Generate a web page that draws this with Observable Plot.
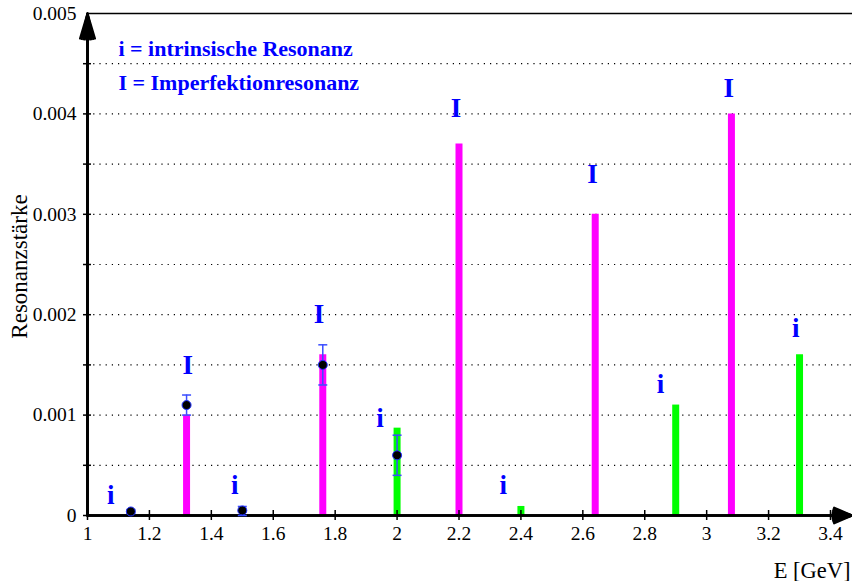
<!DOCTYPE html>
<html>
<head>
<meta charset="utf-8">
<script src="https://cdn.jsdelivr.net/npm/d3@7"></script>
<script src="https://cdn.jsdelivr.net/npm/@observablehq/plot@0.6"></script>
<style>
  html, body { margin: 0; padding: 0; background: #fff; }
  #chart svg { display: block; }
  #chart svg, #chart svg text { font-family: "Liberation Serif", "Times New Roman", "DejaVu Serif", serif !important; }
</style>
</head>
<body>
<div id="chart"></div>
<script>
// Imperfection resonances (magenta)
const imperfE = [1.32, 1.76, 2.2, 2.64, 3.08];
const imperfS = [0.001, 0.0016, 0.0037, 0.003, 0.004];
// Intrinsic resonances (green)
const intrE = [2.0, 2.4, 2.9, 3.3];
const intrS = [0.00087, 0.00009, 0.0011, 0.0016];
// Measured points with error bars
const measE = [1.14, 1.32, 1.5, 1.76, 2.0];
const measS = [0.00004, 0.0011, 0.00005, 0.0015, 0.0006];
const measLo = [0.00002, 0.001, 0.0, 0.0013, 0.0004];
const measHi = [0.00006, 0.0012, 0.00009, 0.0017, 0.0008];
// Type labels above the resonances
const labText = ["i", "I", "i", "I", "i", "I", "i", "I", "i", "I", "i"];
const labE = [1.075, 1.324, 1.476, 1.748, 1.945, 2.19, 2.343, 2.631, 2.851, 3.071, 3.288];
const labS = [0.0002, 0.0015, 0.0003, 0.002, 0.00097, 0.00406, 0.0003, 0.0034, 0.00131, 0.00425, 0.00186];
// Legend
const legendText = ["i = intrinsische Resonanz", "I = Imperfektionresonanz"];
const legendS = [0.00465, 0.00431];
const legendE = 1.1;
// Axes
const xTicks = [1, 1.2, 1.4, 1.6, 1.8, 2, 2.2, 2.4, 2.6, 2.8, 3, 3.2, 3.4];
const yTicks = [0, 0.0005, 0.001, 0.0015, 0.002, 0.0025, 0.003, 0.0035, 0.004, 0.0045, 0.005];
const yGrid = yTicks.filter(d => d > 0 && d < 0.005);
const xAxisEnd = 3.47;
const xLabel = "E [GeV]";
const yLabel = "Resonanzstärke";

const FONT = "Liberation Serif, Times New Roman, DejaVu Serif, serif";
const imperf = imperfE.map((e, i) => ({e, s: imperfS[i]}));
const intr = intrE.map((e, i) => ({e, s: intrS[i]}));
const meas = measE.map((e, i) => ({e, s: measS[i], lo: measLo[i], hi: measHi[i]}));
const labs = labE.map((e, i) => ({e, s: labS[i], t: labText[i]}));
const legend = legendText.map((t, i) => ({t, s: legendS[i]}));

const capSymbol = {draw(ctx, size) { ctx.moveTo(-4.5, 0); ctx.lineTo(4.5, 0); }};
// hatched arrow heads: several nested heads of decreasing angle
const xHatch = [47, 38, 29, 20, 11];
const yHatch = [33, 26, 19, 12, 5];

const chart = Plot.plot({
  width: 852,
  height: 581,
  marginLeft: 87,
  marginRight: 22,
  marginTop: 13,
  marginBottom: 66,
  style: {fontFamily: FONT, fontSize: "19px", color: "#000", background: "#fff"},
  x: {domain: [1, 3.4], axis: null},
  y: {domain: [0, 0.005], axis: null},
  marks: [
    // dotted grid
    Plot.ruleY(yGrid, {x1: 1, x2: xAxisEnd, stroke: "#000", strokeWidth: 1.2, strokeDasharray: "1.2,5"}),
    // top frame line
    Plot.ruleY([0.005], {x1: 1, x2: xAxisEnd + 0.02, stroke: "#000", strokeWidth: 1.5}),
    // bars
    Plot.ruleX(imperf, {x: "e", y1: 0, y2: "s", stroke: "#ff00ff", strokeWidth: 7}),
    Plot.ruleX(intr, {x: "e", y1: 0, y2: "s", stroke: "#00ff00", strokeWidth: 7}),
    // axes lines with hatched arrow heads
    ...xHatch.map(a => Plot.arrow([0], {x1: 1, y1: 0, x2: xAxisEnd, y2: 0, stroke: "#000", strokeWidth: 2.2, headLength: 13.4, headAngle: a})),
    ...yHatch.map(a => Plot.arrow([0], {x1: 1, y1: 0, x2: 1, y2: 0.005, stroke: "#000", strokeWidth: 2.2, headLength: 17.8, headAngle: a})),
    // tick marks crossing axes
    Plot.ruleX(xTicks, {x: d => d, y1: 0, y2: 0, insetTop: -5, insetBottom: -5, stroke: "#000", strokeWidth: 1.5}),
    Plot.ruleY(yTicks.filter(d => d < 0.005), {y: d => d, x1: 1, x2: 1, insetLeft: -4, insetRight: -4, stroke: "#000", strokeWidth: 1.5}),
    // tick labels
    Plot.axisX(xTicks, {tickSize: 0, tickPadding: 11, fontSize: 19.5, fontFamily: FONT, label: null, tickFormat: d => String(d)}),
    Plot.axisY(yTicks, {tickSize: 0, tickPadding: 11, fontSize: 19.5, fontFamily: FONT, label: null,
      tickFormat: d => { const k = Math.round(d * 2000); return k % 2 === 0 ? (d === 0 ? "0" : d.toFixed(3)) : ""; }}),
    // axis titles
    Plot.text([yLabel], {text: d => d, frameAnchor: "left", dx: -68, dy: 2, rotate: -90, textAnchor: "middle", lineAnchor: "middle", fontSize: 23, fontFamily: FONT, fill: "#000"}),
    Plot.text([xLabel], {text: d => d, frameAnchor: "bottom-right", dx: 20, dy: 62, textAnchor: "end", lineAnchor: "bottom", fontSize: 22.5, fontFamily: FONT, fill: "#000"}),
    // error bars
    Plot.ruleX(meas, {x: "e", y1: "lo", y2: "hi", stroke: "#3a4dff", strokeWidth: 1.5}),
    Plot.dot(meas, {x: "e", y: "hi", symbol: capSymbol, stroke: "#3a4dff", strokeWidth: 1.5, r: 4}),
    Plot.dot(meas, {x: "e", y: "lo", symbol: capSymbol, stroke: "#3a4dff", strokeWidth: 1.5, r: 4}),
    Plot.dot(meas, {x: "e", y: "s", r: 4.5, fill: "#000", stroke: "#2030ff", strokeWidth: 1}),
    // i / I labels
    Plot.text(labs, {x: "e", y: "s", text: "t", fill: "#0000ff", fontSize: 27, fontWeight: "bold", fontFamily: FONT, lineAnchor: "middle"}),
    // legend
    Plot.text(legend, {x: legendE, y: "s", text: "t", fill: "#0000ff", fontSize: 22, fontWeight: "bold", fontFamily: FONT, textAnchor: "start", lineAnchor: "middle"})
  ]
});
document.getElementById("chart").appendChild(chart);
</script>
</body>
</html>
